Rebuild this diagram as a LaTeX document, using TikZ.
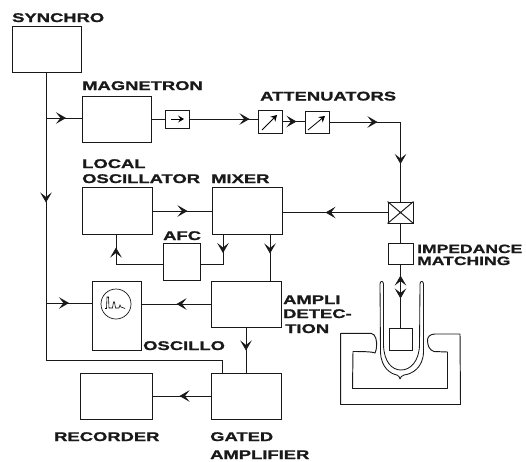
\documentclass[tikz,border=0pt]{standalone}
\usepackage{fontspec}
\setmainfont[FakeStretch=1.46,FakeBold=1.2]{Liberation Sans}
\usetikzlibrary{arrows.meta,decorations.markings}
\tikzset{
  x=1pt,y=-1pt,
  wire/.style={draw=black!90,line width=0.85pt},
  box/.style={draw=black!90,line width=0.95pt,inner sep=0pt,rectangle},
  lab/.style={anchor=base west,inner sep=0pt,font=\fontsize{12.6}{12.6}\selectfont\bfseries,text=black!90},
  labtight/.style={lab,font=\fontsize{12}{12}\selectfont\bfseries},
  flow/.style={postaction={decorate},decoration={markings,mark=at position #1 with {\arrow[black!90,line width=0.7pt]{Stealth[length=10pt,width=11.5pt,inset=4.5pt]}}}}
}
\newcommand{\blk}[5]{\node[box,minimum width=#4 pt-#2 pt,minimum height=#5 pt-#3 pt] (#1) at ({(#2+#4)/2},{(#3+#5)/2}) {};}
\begin{document}
\begin{tikzpicture}
\useasboundingbox (0,0) rectangle (526,461);
% blocks
\blk{synchro}{12}{26}{81}{72}
\blk{magnetron}{82}{96}{151}{142}
\blk{iso}{165}{110}{189}{128}
\blk{attA}{258}{110}{282}{133}
\blk{attB}{305}{111}{329}{133}
\blk{cross}{388}{202}{413}{223}
\blk{imp}{388}{243}{413}{264}
\blk{locosc}{82}{187}{152}{234}
\blk{mixer}{212}{187}{282}{234}
\blk{afc}{163}{243}{200}{280}
\blk{oscillo}{92}{281}{141}{350}
\blk{ampli}{211}{281}{281}{327}
\blk{gated}{211}{373}{281}{419}
\blk{recorder}{80}{373}{152}{419}
\blk{sample}{389}{328}{412}{350}
\node[box,circle,minimum size=30pt,line width=0.7pt] (screen) at (116,304) {};
% junctions
\coordinate (tMag) at (46,118);
\coordinate (tOsc) at (46,303);
\coordinate (tEnd) at (46,360);
\coordinate (gIn) at (222,373);
\coordinate (gUp) at (222,360);
\coordinate (cTop) at (400.5,122);
\coordinate (afcL) at (116,264);
\coordinate (afcR) at (223,264);
\coordinate (lo) at (116,234);
\coordinate (mx) at (223,234);
% connectors
\draw[wire,flow=130pt] (synchro.south -| tMag) -- (tEnd) -- (gUp) -- (gIn);
\draw[wire,flow=20pt] (tMag) -- (magnetron.west |- tMag);
\draw[wire,flow=23pt] (tOsc) -- (oscillo.west |- tOsc);
\draw[wire] (magnetron.east |- iso.west) -- (iso.west);
\draw[wire,flow=60pt] (iso.east) -- (attA.west |- iso.east);
\draw[wire,flow=14pt] (attA.east) -- (attB.west |- attA.east);
\draw[wire,flow=48pt] (attB.east) -- (cTop);
\draw[wire,flow=42pt] (cTop) -- (cross.north);
\draw[wire,flow=62pt] (cross.west) -- (mixer.east |- cross.west);
\draw[wire] (cross.south) -- (imp.north);
\draw[wire,flow=34pt] (imp.south) -- (sample.north);
\draw[wire,flow=52pt] (sample.north) -- (imp.south);
\draw[wire,flow=35pt] (locosc.east |- 0,211) -- (mixer.west |- 0,211);
\draw[wire,flow=63pt] (afc.west |- afcL) -- (afcL) -- (lo);
\draw[wire,flow=19pt] (mx) -- (afcR) -- (afc.east |- afcR);
\draw[wire,flow=19pt] (mixer.south -| 270,0) -- (ampli.north -| 270,0);
\draw[wire,flow=34pt] (ampli.west |- 0,304) -- (oscillo.east |- 0,304);
\draw[wire,flow=23pt] (ampli.south -| gated.north) -- (gated.north);
\draw[wire,flow=31pt] (gated.west |- 0,396) -- (recorder.east |- 0,396);
% small symbols
\draw[line width=0.8pt,-{Stealth[length=6pt,width=7pt,inset=2.5pt]}] (171,119) -- (184,119);
\draw[line width=0.8pt,-{Stealth[length=6pt,width=7pt,inset=2pt]}] (262,130) -- (277,115);
\draw[line width=0.8pt,-{Stealth[length=6pt,width=7pt,inset=2pt]}] (308,130) -- (325,116);
\draw[box] (cross.north west) -- (cross.south east) (cross.north east) -- (cross.south west);
% scope trace
\draw[line width=0.6pt] (105,308.5) -- (106.5,308.5) -- (107,297) -- (108.5,297) -- (109,308) -- (112.5,308) -- (113.5,302) -- (114.5,302) -- (115.5,308) -- (119,308) -- (120,305) -- (121,307) -- (125,308.5);
% cavity
\draw[box,line join=round] (340.7,333.3) -- (371,333.3) .. controls (376,334) and (377,341) .. (376.5,347) .. controls (376,351) and (376,350) .. (375,353) .. controls (372,351.5) and (360,351.5) .. (353,351.5) -- (352.5,388.5) -- (447.5,388.5) -- (447.5,352) -- (434,351.5) .. controls (429,350) and (427.5,345) .. (427.5,340) .. controls (427.5,337) and (430,334) .. (435,334) -- (460,334) -- (460.5,404.5) -- (340.7,404.5) -- cycle;
% dewar
\draw[wire,line join=round] (380,284) -- (380.5,352) .. controls (381,368) and (391,374) .. (397,375) .. controls (399,376) and (399.5,377) .. (400,379) .. controls (400.5,377) and (401.5,376) .. (404,375) .. controls (412,374) and (423,368) .. (423.5,352) -- (423.5,284) .. controls (423.5,280.5) and (420,280.5) .. (420,284) -- (419.5,345) .. controls (419,362) and (410,370) .. (401,370) .. controls (392,370) and (384,362) .. (383.5,345) -- (383.5,284) .. controls (383.5,280.5) and (380,280.5) .. (380,284) -- cycle;
% labels
\node[lab] (t1) at (12,22) {SYNCHRO};
\node[lab] (t2) at (82,90) {MAGNETRON};
\node[lab] (t3) at (260,100.5) {ATTENUATORS};
\node[lab] (t4) at (82,168) {LOCAL};
\node[lab] (t5) at (82,183) {OSCILLATOR};
\node[lab] (t6) at (211,183) {MIXER};
\node[labtight] (t7) at (417,253) {IMPEDANCE};
\node[labtight] (t8) at (417,265) {MATCHING};
\node[lab] (t9) at (163,240) {AFC};
\node[lab] (t10) at (283,304) {AMPLI};
\node[lab] (t11) at (283,318) {DETEC-};
\node[lab] (t12) at (285,333) {TION};
\node[lab] (t13) at (143,350) {OSCILLO};
\node[lab] (t14) at (54,441) {RECORDER};
\node[lab] (t15) at (210,441) {GATED};
\node[lab] (t16) at (210,459) {AMPLIFIER};
\end{tikzpicture}
\end{document}
